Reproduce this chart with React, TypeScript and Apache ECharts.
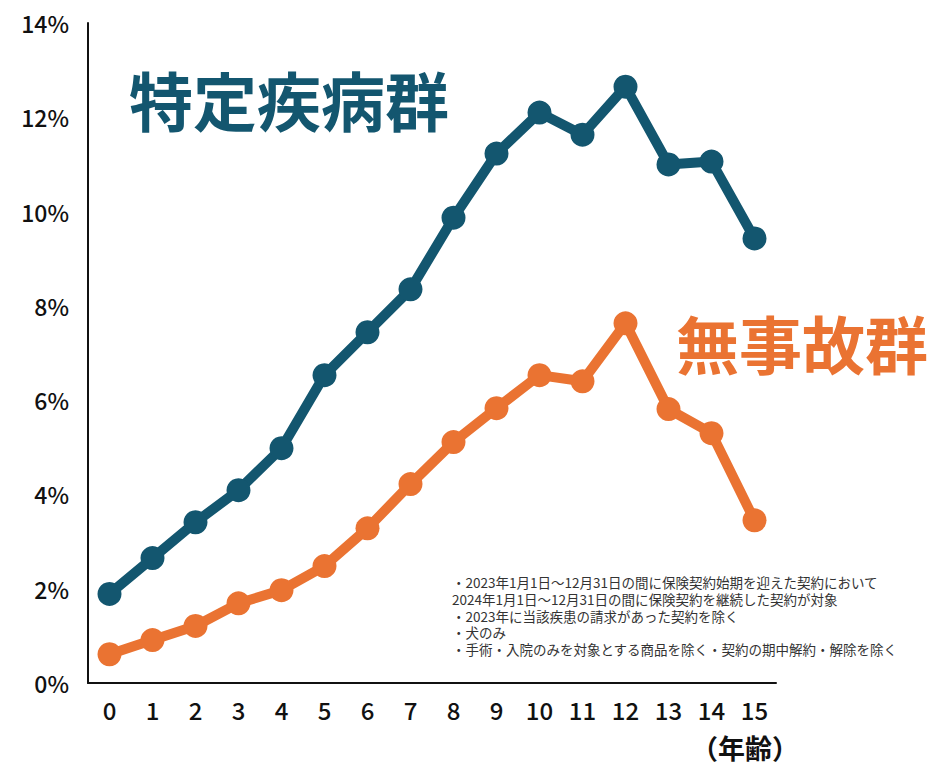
import React, { useEffect, useRef } from "react";
import * as echarts from "echarts";

const ages = ["0", "1", "2", "3", "4", "5", "6", "7", "8", "9", "10", "11", "12", "13", "14", "15"];
const specificDisease = [1.89, 2.65, 3.41, 4.09, 4.98, 6.53, 7.44, 8.35, 9.87, 11.23, 12.1, 11.63, 12.65, 11.0, 11.06, 9.43];
const noClaim = [0.61, 0.91, 1.21, 1.69, 1.97, 2.48, 3.28, 4.22, 5.11, 5.83, 6.53, 6.4, 7.63, 5.81, 5.3, 3.45];
const notes = [
  "・2023年1月1日〜12月31日の間に保険契約始期を迎えた契約において",
  "2024年1月1日〜12月31日の間に保険契約を継続した契約が対象",
  "・2023年に当該疾患の請求があった契約を除く",
  "・犬のみ",
  "・手術・入院のみを対象とする商品を除く・契約の期中解約・解除を除く",
];

const BLUE = "#13566f";
const ORANGE = "#ea7332";
const FONT = "'Noto Sans CJK JP', 'Noto Sans', sans-serif";

export default function App() {
  const ref = useRef<HTMLDivElement>(null);
  useEffect(() => {
    if (!ref.current) return;
    document.body.style.margin = "0";
    document.body.style.overflow = "hidden";
    const chart = echarts.init(ref.current, null, { renderer: "svg" });
    chart.setOption({
      animation: false,
      backgroundColor: "#ffffff",
      grid: { left: 88, top: 23, width: 688, height: 660 },
      xAxis: {
        type: "category",
        data: ages,
        boundaryGap: true,
        axisLine: { lineStyle: { color: "#111", width: 2 } },
        axisTick: { show: false },
        axisLabel: { color: "#111", fontSize: 24, fontWeight: 500, fontFamily: FONT, margin: 14 },
      },
      yAxis: {
        type: "value",
        min: 0,
        max: 14,
        interval: 2,
        splitLine: { show: false },
        axisLine: { show: true, lineStyle: { color: "#111", width: 2 } },
        axisTick: { show: false },
        axisLabel: {
          color: "#111",
          fontSize: 23,
          fontWeight: 500,
          fontFamily: FONT,
          margin: 19,
          formatter: (v: number) => v + "%",
        },
      },
      series: [
        {
          type: "line",
          data: specificDisease,
          lineStyle: { color: BLUE, width: 10 },
          itemStyle: { color: BLUE },
          symbol: "circle",
          symbolSize: 24,
        },
        {
          type: "line",
          data: noClaim,
          lineStyle: { color: ORANGE, width: 10 },
          itemStyle: { color: ORANGE },
          symbol: "circle",
          symbolSize: 24,
        },
      ],
      graphic: [
        {
          type: "text",
          left: 129,
          top: 66,
          style: { text: "特定疾病群", fill: BLUE, font: `bold 64px ${FONT}` },
        },
        {
          type: "text",
          left: 676,
          top: 310,
          style: { text: "無事故群", fill: ORANGE, font: `bold 63px ${FONT}` },
        },
        {
          type: "text",
          left: 691,
          top: 734,
          style: { text: "（年齢）", fill: "#111", font: `bold 27px ${FONT}` },
        },
        {
          type: "text",
          left: 452,
          top: 574,
          style: {
            text: notes.join("\n"),
            fill: "#333",
            font: `13.5px ${FONT}`,
            lineHeight: 16.6,
          },
        },
      ],
    });
    return () => chart.dispose();
  }, []);
  return <div ref={ref} style={{ width: 939, height: 768 }} />;
}
